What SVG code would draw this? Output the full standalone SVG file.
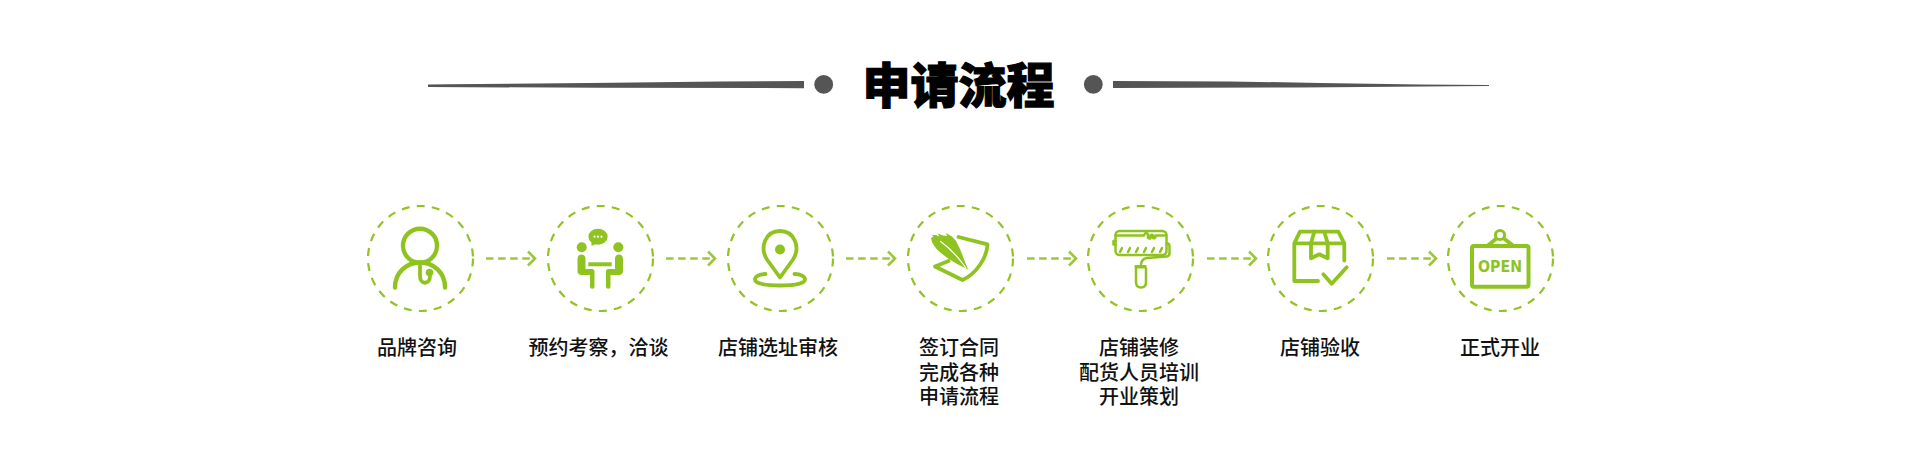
<svg xmlns="http://www.w3.org/2000/svg" width="1920" height="453" viewBox="0 0 1920 453">
<style>
.ring{fill:none;stroke:#93c225;stroke-width:2.2;stroke-dasharray:8 7.2}
.dash{fill:none;stroke:#9cc838;stroke-width:2.6;stroke-dasharray:7.5 4.6}
.chev{fill:none;stroke:#9cc838;stroke-width:2.6}
.ic{fill:none;stroke:#8fc31f;stroke-width:3.8;stroke-linecap:round;stroke-linejoin:round}
.thin{fill:none;stroke:#8fc31f;stroke-width:2.5;stroke-linecap:round;stroke-linejoin:round}
.fl{fill:#8fc31f}
.wh{fill:#fff}
.lb{font-family:"Noto Sans CJK SC","Noto Sans",sans-serif;font-size:20px;font-weight:500;fill:#111;text-anchor:middle}
.ttl{font-family:"Noto Sans CJK SC","Noto Sans",sans-serif;font-size:48px;font-weight:900;fill:#000;stroke:#000;stroke-width:1.2;text-anchor:middle}
.rule{fill:#555}
</style>
<rect width="1920" height="453" fill="#fff"/>
<g id="title">
<path class="rule" d="M428 84.6L428 87L600 87.8L804 88.2L804 81L720 81.6L590 83L450 84.3Z"/>
<circle class="rule" cx="823.7" cy="84.4" r="9.4"/>
<text class="ttl" x="958.5" y="102.5">申请流程</text>
<circle class="rule" cx="1093.3" cy="84.4" r="9.4"/>
<path class="rule" d="M1113 81L1113 88L1300 87.4L1489 86L1489 85L1420 84.4L1320 83L1230 81.4Z"/>
</g>
<g id="connectors">
<path class="dash" d="M486 258.5H534"/><path class="chev" d="M528 251.5L535 258.5L528 265.5"/>
<path class="dash" d="M666 258.5H714"/><path class="chev" d="M708 251.5L715 258.5L708 265.5"/>
<path class="dash" d="M846 258.5H894"/><path class="chev" d="M888 251.5L895 258.5L888 265.5"/>
<path class="dash" d="M1027 258.5H1075"/><path class="chev" d="M1069 251.5L1076 258.5L1069 265.5"/>
<path class="dash" d="M1207 258.5H1255"/><path class="chev" d="M1249 251.5L1256 258.5L1249 265.5"/>
<path class="dash" d="M1387 258.5H1435"/><path class="chev" d="M1429 251.5L1436 258.5L1429 265.5"/>
</g>
<g id="node-1">
<circle class="ring" cx="420.5" cy="258.5" r="52.5"/>
<circle cx="420" cy="245.7" r="17" fill="none" stroke="#8fc31f" stroke-width="4.4"/>
<path d="M395 287.5C395 272 407 262.5 420 262.5C433 262.5 445 272 445 287.5" fill="none" stroke="#8fc31f" stroke-width="4.4" stroke-linecap="round"/>
<path class="ic" d="M420 263V276C420 285 430 285 430 276"/>
<circle class="fl" cx="429.5" cy="272.5" r="3.8"/>
<text class="lb" x="417" y="355">品牌咨询</text>
</g>
<g id="node-2">
<circle class="ring" cx="600.5" cy="258.5" r="52.5"/>
<ellipse class="fl" cx="598" cy="236.7" rx="9.6" ry="8"/>
<path class="fl" d="M591.5 241L591.5 246L598 243Z"/>
<circle class="wh" cx="594.5" cy="236.7" r="1.1"/><circle class="wh" cx="598" cy="236.7" r="1.1"/><circle class="wh" cx="601.5" cy="236.7" r="1.1"/>
<circle class="fl" cx="581.7" cy="247.3" r="5"/><circle class="fl" cx="618.3" cy="247.3" r="5"/>
<path class="fl" d="M577.5 259.5Q577.5 254.5 581.5 254.5Q585.5 254.5 585.5 259V269H592.5Q594.5 269 594.5 271.5V287Q594.5 288.8 592.3 288.8Q590 288.8 590 287V275H582Q577.5 275 577.5 271Z"/>
<path class="fl" d="M623 259.5Q623 254.5 619 254.5Q615 254.5 615 259V269H608Q606 269 606 271.5V287Q606 288.8 608.2 288.8Q610.5 288.8 610.5 287V275H618.5Q623 275 623 271Z"/>
<rect class="fl" x="588.3" y="262.3" width="23.4" height="4"/>
<text class="lb" x="598.5" y="355">预约考察，洽谈</text>
</g>
<g id="node-3">
<circle class="ring" cx="780.5" cy="258.5" r="52.5"/>
<path class="ic" d="M780 277.5L767 259.5C759 247 766 231 780 231C794 231 801 247 793 259.5Z"/>
<circle class="fl" cx="780" cy="249.5" r="5"/>
<path class="ic" d="M765.5 274C759 274 755 276.5 755 279.5C755 283.5 766 285.5 780 285.5C794 285.5 805 283.5 805 279.5C805 276.5 801 274 794.5 274"/>
<text class="lb" x="778" y="355">店铺选址审核</text>
</g>
<g id="node-4">
<circle class="ring" cx="960.5" cy="258.5" r="52.5"/>
<path class="ic" d="M958.5 237L987.5 244.3C987 258 976 274 962.5 280L935 266.5L948.5 261"/>
<path class="fl" d="M968 269.5L958 264.5C947 258 936 251 932 242L931 238L933.5 236.5L931.5 235L936 235L939 236.5L938 233.5L943 235.5L947 236L946 233L952 236.5L956 241L960 249Z"/>
<path d="M940 241Q954 251 966 268" fill="none" stroke="#fff" stroke-width="1.2"/>
<text class="lb" x="959" y="355"><tspan x="959" y="355">签订合同</tspan><tspan x="959" y="379.5">完成各种</tspan><tspan x="959" y="404">申请流程</tspan></text>
</g>
<g id="node-5">
<circle class="ring" cx="1140.5" cy="258.5" r="52.5"/>
<rect class="thin" x="1115.5" y="231" width="51" height="24" rx="4"/>
<path class="thin" d="M1115.5 235.5H1144Q1145 233 1146 233Q1148 233 1148 236V238Q1149.5 239 1150.5 238V235.5Q1152 234 1153 235.5V238Q1154.5 239 1155.5 237V235.5H1166"/>
<path class="thin" d="M1120 252L1122 248M1128 252L1130 248M1136 252L1138 248M1144 252L1146 248M1152 252L1154 248M1160 252L1162 248"/>
<path class="thin" d="M1115.5 241H1113.5V244.5H1115.5M1166.5 243.5H1168Q1169.5 244 1169.5 246V253Q1169.5 256.5 1166 256.5L1147 258Q1142 258.5 1141 264"/>
<rect x="1134.5" y="265" width="12" height="3.4" rx="1" class="fl"/>
<path class="thin" d="M1136 268.5V282Q1136 287.5 1141 287.5Q1146 287.5 1146 282V268.5"/>
<text class="lb" x="1139" y="355"><tspan x="1139" y="355">店铺装修</tspan><tspan x="1139" y="379.5">配货人员培训</tspan><tspan x="1139" y="404">开业策划</tspan></text>
</g>
<g id="node-6">
<circle class="ring" cx="1320.5" cy="258.5" r="52.5"/>
<path class="ic" d="M1344.3 260.5V243.3L1338.3 231.7H1300L1294.3 243.3V281H1318M1294.3 243.3H1344.3"/>
<path class="ic" d="M1314.3 231.7L1311 243.3V258.3L1319.3 254.3L1327.7 258.3V243.3L1324.3 231.7"/>
<path class="ic" d="M1323.3 274.3L1331.7 283.7L1346.7 267.3"/>
<text class="lb" x="1320" y="355">店铺验收</text>
</g>
<g id="node-7">
<circle class="ring" cx="1500.5" cy="258.5" r="52.5"/>
<path class="ic" d="M1488 245.5L1500 235.5L1513 245.5"/>
<circle cx="1500" cy="235" r="4.6" fill="#fff" stroke="#8fc31f" stroke-width="3"/>
<rect x="1472" y="246" width="56.5" height="40.8" rx="2" fill="none" stroke="#8fc31f" stroke-width="4"/>
<text x="1500" y="272" text-anchor="middle" textLength="44" lengthAdjust="spacingAndGlyphs" font-family="'DejaVu Sans','Liberation Sans',sans-serif" font-weight="700" font-size="15" fill="#8fc31f">OPEN</text>
<text class="lb" x="1500" y="355">正式开业</text>
</g>
</svg>
